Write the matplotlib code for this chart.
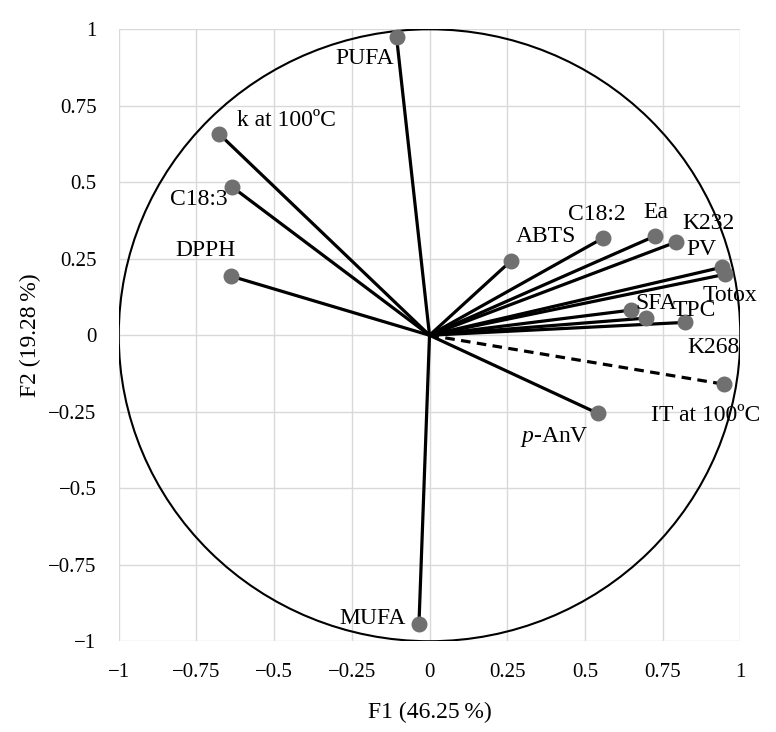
import matplotlib
matplotlib.use("Agg")
import matplotlib.pyplot as plt
from matplotlib.patches import Circle

# loadings on F1 / F2
variables = ["PUFA", "k at 100ºC", "C18:3", "DPPH", "ABTS", "C18:2", "Ea", "K232",
             "PV", "Totox", "SFA", "TPC", "K268", "IT at 100ºC", r"$\mathit{p}$-AnV", "MUFA"]
f1 = [-0.106, -0.676, -0.634, -0.638, 0.261, 0.557, 0.725, 0.792,
      0.940, 0.950, 0.647, 0.696, 0.821, 0.947, 0.541, -0.034]
f2 = [0.974, 0.657, 0.484, 0.193, 0.242, 0.317, 0.324, 0.304,
      0.222, 0.199, 0.082, 0.056, 0.042, -0.160, -0.255, -0.945]
dashed = ["IT at 100ºC"]

ticks = [-1, -0.75, -0.5, -0.25, 0, 0.25, 0.5, 0.75, 1]
tick_labels = ["\u22121", "\u22120.75", "\u22120.5", "\u22120.25", "0", "0.25", "0.5", "0.75", "1"]

# where each label sits (data coords, text centre)
label_pos = [(-0.209, 0.905), (-0.461, 0.703), (-0.741, 0.444), (-0.721, 0.278),
             (0.374, 0.324), (0.538, 0.395), (0.728, 0.402), (0.899, 0.366),
             (0.876, 0.281), (0.966, 0.131), (0.728, 0.105), (0.853, 0.082),
             (0.915, -0.039), (0.889, -0.261), (0.403, -0.333), (-0.184, -0.925)]

plt.rcParams["font.family"] = ["Liberation Serif", "DejaVu Serif"]
plt.rcParams["mathtext.fontset"] = "custom"
plt.rcParams["mathtext.it"] = "Liberation Serif:italic"
plt.rcParams["mathtext.rm"] = "Liberation Serif"

fig = plt.figure(figsize=(7.76, 7.32), dpi=100)
ax = fig.add_axes([0.153, 0.124, 0.801, 0.836])

ax.set_xlim(-1, 1)
ax.set_ylim(-1, 1)
ax.set_xticks(ticks)
ax.set_yticks(ticks)
ax.set_xticklabels(tick_labels)
ax.set_yticklabels(tick_labels)
ax.tick_params(length=0, labelsize=15, pad=16)
ax.grid(True, color="#d9d9d9", lw=1)
ax.set_axisbelow(True)
for s in ax.spines.values():
    s.set_visible(False)

ax.add_patch(Circle((0, 0), 1, fill=False, ec="black", lw=1.5, zorder=2))

for name, x, y in zip(variables, f1, f2):
    ls = "--" if name in dashed else "-"
    ax.plot([0, x], [0, y], color="black", lw=2.3, ls=ls, zorder=3,
            dashes=(3, 2) if ls == "--" else (None, None))
ax.scatter(f1, f2, s=110, color="#707070", zorder=4, clip_on=False)

for name, (tx, ty) in zip(variables, label_pos):
    ax.text(tx, ty, name, fontsize=17, ha="center", va="center", zorder=5)

ax.set_xlabel("F1 (46.25\u2009%)", fontsize=17, labelpad=14)
ax.set_ylabel("F2 (19.28\u2009%)", fontsize=17, labelpad=5)

fig.savefig("out.png", dpi=100)
